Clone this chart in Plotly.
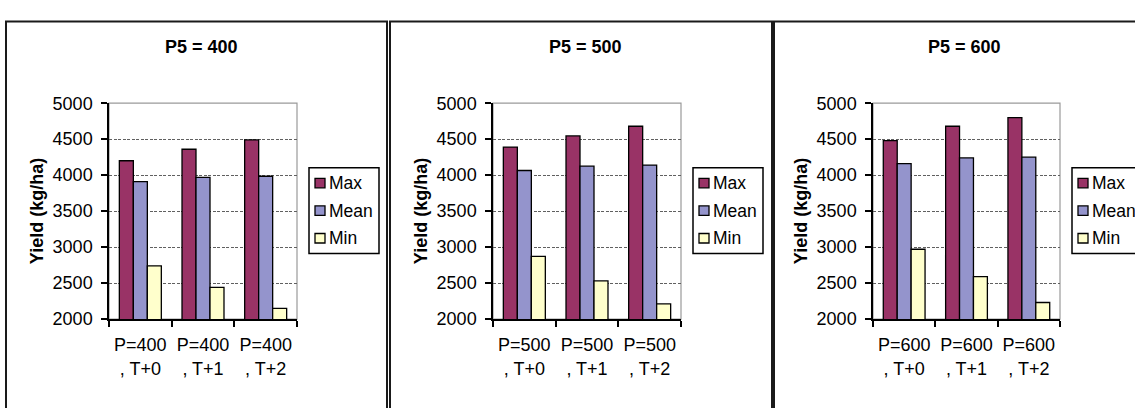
import plotly.graph_objects as go

# Figure size in pixels
W, H = 1135, 408

# ---- data -------------------------------------------------------------
p5_levels = [400, 500, 600]
t_labels = ["T+0", "T+1", "T+2"]
series_names = ["Max", "Mean", "Min"]
series_colors = ["#993366", "#9494CC", "#FFFFCC"]

max_yield = [[4200, 4360, 4490], [4390, 4545, 4680], [4480, 4680, 4800]]
mean_yield = [[3910, 3970, 3985], [4065, 4125, 4140], [4160, 4240, 4250]]
min_yield = [[2740, 2440, 2150], [2870, 2530, 2210], [2970, 2590, 2230]]

y_ticks = [2000, 2500, 3000, 3500, 4000, 4500, 5000]

# ---- layout helpers (pixel -> paper) -----------------------------------
def px(x):
    return x / W


def py(y):
    return 1 - y / H


FONT = "Arial, Liberation Sans, sans-serif"
plot_left = [109, 493, 873]
plot_width = [188, 188, 187]
plot_top, plot_bottom = 98, 325
frames = [(6, 387), (390, 772), (774, 1160)]

fig = go.Figure()
shapes = []
annotations = []
layout = {}

for i, p5 in enumerate(p5_levels):
    n = "" if i == 0 else str(i + 1)
    xa, ya = "x" + n, "y" + n
    cats = [f"P={p5}<br>, {t}" for t in t_labels]
    for name, color, vals in zip(series_names, series_colors,
                                 [max_yield, mean_yield, min_yield]):
        fig.add_trace(go.Bar(
            x=cats, y=vals[i], name=name, xaxis=xa, yaxis=ya,
            marker=dict(color=color, line=dict(color="black", width=1.3)),
            showlegend=False,
        ))

    left = plot_left[i]
    right = left + plot_width[i]
    layout["xaxis" + n] = dict(
        domain=[px(left), px(right)], anchor=ya,
        type="category", showline=True, linecolor="black", linewidth=1.5,
        ticks="outside", tickson="boundaries", ticklen=6, tickcolor="black",
        tickwidth=1.5, ticklabelstandoff=9, tickangle=0,
        showgrid=False, fixedrange=True,
        tickfont=dict(family=FONT, size=18, color="black"),
    )
    layout["yaxis" + n] = dict(
        domain=[py(plot_bottom), py(plot_top)], anchor=xa,
        range=[2000, 5000], tickvals=y_ticks,
        showline=True, linecolor="black", linewidth=1.5,
        ticks="outside", ticklen=6, tickcolor="black", tickwidth=1.5,
        ticklabelstandoff=5,
        showgrid=True, gridcolor="#606060", gridwidth=1.4, griddash="3px,1.5px",
        zeroline=False, fixedrange=True,
        tickfont=dict(family=FONT, size=18, color="black"),
    )

    # light grey border around the plotting area
    shapes.append(dict(type="rect", xref=xa + " domain", yref=ya + " domain",
                       x0=0, x1=1, y0=0, y1=1, layer="below",
                       line=dict(color="#9a9a9a", width=1.2)))

    # chart title
    annotations.append(dict(
        text=f"<b>P5 = {p5}</b>", xref=xa + " domain", yref="paper",
        x=0.5, y=py(38.5), xshift=-2, showarrow=False,
        font=dict(family=FONT, size=18, color="black"),
        xanchor="center", yanchor="middle"))

    # y axis title
    annotations.append(dict(
        text="<b>Yield (kg/ha)</b>", xref=xa + " domain", yref=ya + " domain",
        x=0, y=0.5, xshift=-72, textangle=-90, showarrow=False,
        font=dict(family=FONT, size=18, color="black"),
        xanchor="center", yanchor="middle"))

    # chart frame
    fx0, fx1 = frames[i]
    shapes.append(dict(type="rect", xref="paper", yref="paper",
                       x0=px(fx0), x1=px(fx1), y0=-0.2, y1=py(12),
                       line=dict(color="#1a1a1a", width=2)))

    # legend box
    lx = right + 12
    shapes.append(dict(type="rect", xref="paper", yref="paper",
                       x0=px(lx), x1=px(lx + 70), y0=py(256), y1=py(166),
                       line=dict(color="black", width=1.5)))
    for k, (name, color) in enumerate(zip(series_names, series_colors)):
        cy = 182 + k * 29
        shapes.append(dict(type="rect", xref="paper", yref="paper",
                           x0=px(lx + 6), x1=px(lx + 16),
                           y0=py(cy + 5), y1=py(cy - 5),
                           fillcolor=color, line=dict(color="black", width=1.3)))
        annotations.append(dict(
            text=name, xref="paper", yref="paper", x=px(lx + 18), y=py(cy),
            showarrow=False, xanchor="left", yanchor="middle",
            font=dict(family=FONT, size=17.5, color="black")))

fig.update_layout(
    width=W, height=H, margin=dict(l=0, r=0, t=0, b=0),
    paper_bgcolor="white", plot_bgcolor="white",
    barmode="group", bargap=0.33, bargroupgap=0,
    shapes=shapes, annotations=annotations, showlegend=False,
    **layout,
)

fig.write_html("out.html", config={"displayModeBar": False})
